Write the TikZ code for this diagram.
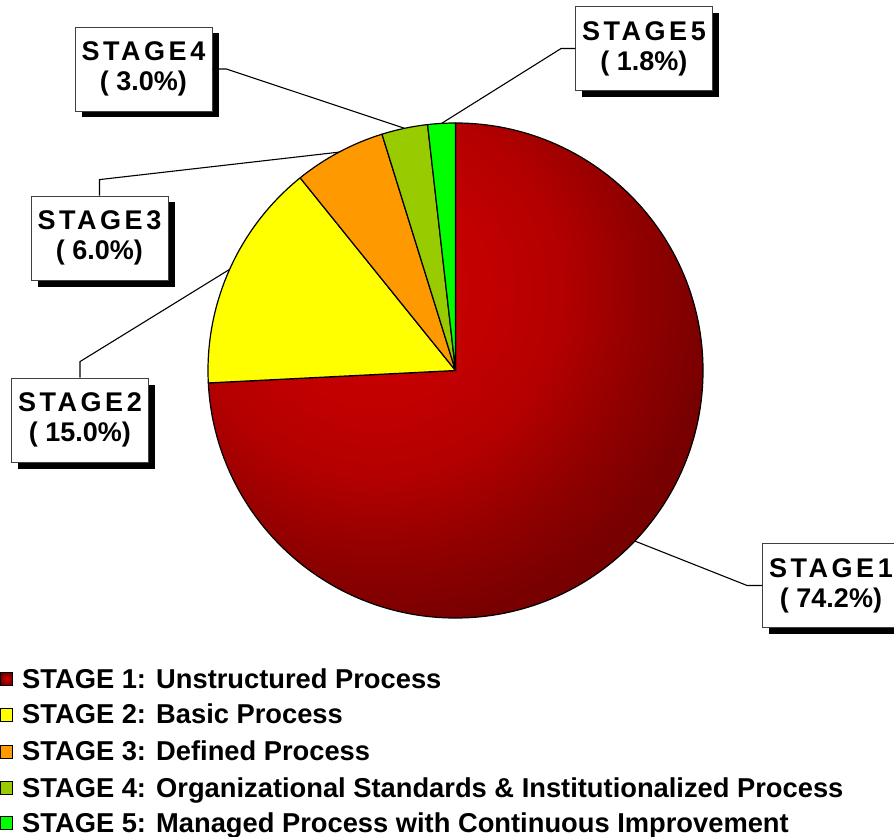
\documentclass[tikz,border=0pt]{standalone}
\usepackage{fontspec}
\setmainfont{Liberation Sans}
\newfontfamily\boxfont[LetterSpace=13]{Liberation Sans}
\usetikzlibrary{shadows}
\definecolor{redA}{RGB}{204,0,0}
\definecolor{redB}{RGB}{194,0,0}
\definecolor{redD}{RGB}{180,0,0}
\definecolor{redE}{RGB}{144,0,0}
\definecolor{redF}{RGB}{120,0,0}
\definecolor{redC}{RGB}{110,0,0}
\definecolor{pieY}{RGB}{255,255,0}
\definecolor{pieO}{RGB}{255,153,0}
\definecolor{pieG}{RGB}{153,204,0}
\definecolor{pieL}{RGB}{0,255,0}
\pgfdeclareradialshading{redc}{\pgfpoint{0bp}{0bp}}{color(0bp)=(redA); color(5.5bp)=(redB); color(9.25bp)=(redD); color(13.5bp)=(redE); color(17bp)=(redF); color(25bp)=(redC); color(50bp)=(redC)}
\pgfdeclareradialshading{redsq}{\pgfpoint{0bp}{0bp}}{color(0bp)=(redA); color(8bp)=(redB); color(25bp)=(redC); color(50bp)=(redC)}
\begin{document}
\begin{tikzpicture}[x=1pt,y=-1pt,
  slice/.style={draw=black, line width=1.2pt, line join=round},
  lbl/.style={draw=black!75, line width=0.8pt, fill=white, minimum width=137pt, minimum height=84pt,
    inner sep=0pt, align=center, font=\boxfont\bfseries\fontsize{27}{30}\selectfont,
    drop shadow={shadow xshift=6.5pt, shadow yshift=-6.5pt, opacity=1, fill=black}},
  conn/.style={draw=black, line width=1.1pt},
  legsq/.style={draw=black, line width=0.8pt, minimum size=12.5pt, inner sep=0pt},
  legtx/.style={anchor=base west, inner sep=0pt, font=\bfseries\fontsize{27.3}{30}\selectfont}]
\clip (0,0) rectangle (894,837);
\fill[white] (0,0) rectangle (894,837);
% pie
\begin{scope}[shift={(455.5pt,-370.5pt)}, x=1pt, y=1pt]
\def\R{247.5}
\def\redslice{(0,0) -- (90:\R) arc[start angle=90, end angle=-177.12, radius=\R] -- cycle}
\begin{scope}
  \clip \redslice;
  \shade[shading=redc] (-580,-420) rectangle (420,580);
\end{scope}
\draw[slice] \redslice;
\path[slice, fill=pieY] (0,0) -- (182.88:\R) arc[start angle=182.88, end angle=128.88, radius=\R] -- cycle;
\path[slice, fill=pieO] (0,0) -- (128.88:\R) arc[start angle=128.88, end angle=107.28, radius=\R] -- cycle;
\path[slice, fill=pieG] (0,0) -- (107.28:\R) arc[start angle=107.28, end angle=96.48, radius=\R] -- cycle;
\path[slice, fill=pieL] (0,0) -- (96.48:\R) arc[start angle=96.48, end angle=90, radius=\R] -- cycle;
\coordinate (p1) at (-43.56:\R);
\coordinate (p2) at (155.88:\R);
\coordinate (p3) at (118.08:\R);
\coordinate (p4) at (101.88:\R);
\coordinate (p5) at (93.24:\R);
\end{scope}
% labels
\node[lbl] (s1) at (831,585.5) {STAGE1\\{\rmfamily ( 74.2\%)}};
\node[lbl] (s2) at (80,420) {STAGE2\\{\rmfamily ( 15.0\%)}};
\node[lbl] (s3) at (99.5,238) {STAGE3\\{\rmfamily ( 6.0\%)}};
\node[lbl] (s4) at (143.5,69) {STAGE4\\{\rmfamily ( 3.0\%)}};
\node[lbl] (s5) at (644,48.5) {STAGE5\\{\rmfamily ( 1.8\%)}};
% connectors
\draw[conn] (s1.west) -- ++(-15,0) -- (p1);
\draw[conn] (s2.north) -- ++(0,-16) -- (p2);
\draw[conn] (s3.north) -- ++(0,-16) -- (p3);
\draw[conn] (s4.east) -- ++(14,0) -- (p4);
\draw[conn] (s5.west) -- ++(-14,0) -- (p5);
% legend
\node[legsq, shade, shading=redsq] (k1) at (6.5,679) {};
\node[legsq, fill=pieY] (k2) at (6.5,715) {};
\node[legsq, fill=pieO] (k3) at (6.5,752) {};
\node[legsq, fill=pieG] (k4) at (6.5,788) {};
\node[legsq, fill=pieL] (k5) at (6.5,823) {};
\node[legtx] (t1) at (22,688) {STAGE 1: Unstructured Process};
\node[legtx] (t2) at (22,723) {STAGE 2: Basic Process};
\node[legtx] (t3) at (22,760) {STAGE 3: Defined Process};
\node[legtx] (t4) at (22,797) {STAGE 4: Organizational Standards \& Institutionalized Process};
\node[legtx] (t5) at (22,832) {STAGE 5: Managed Process with Continuous Improvement};
\end{tikzpicture}
\end{document}
